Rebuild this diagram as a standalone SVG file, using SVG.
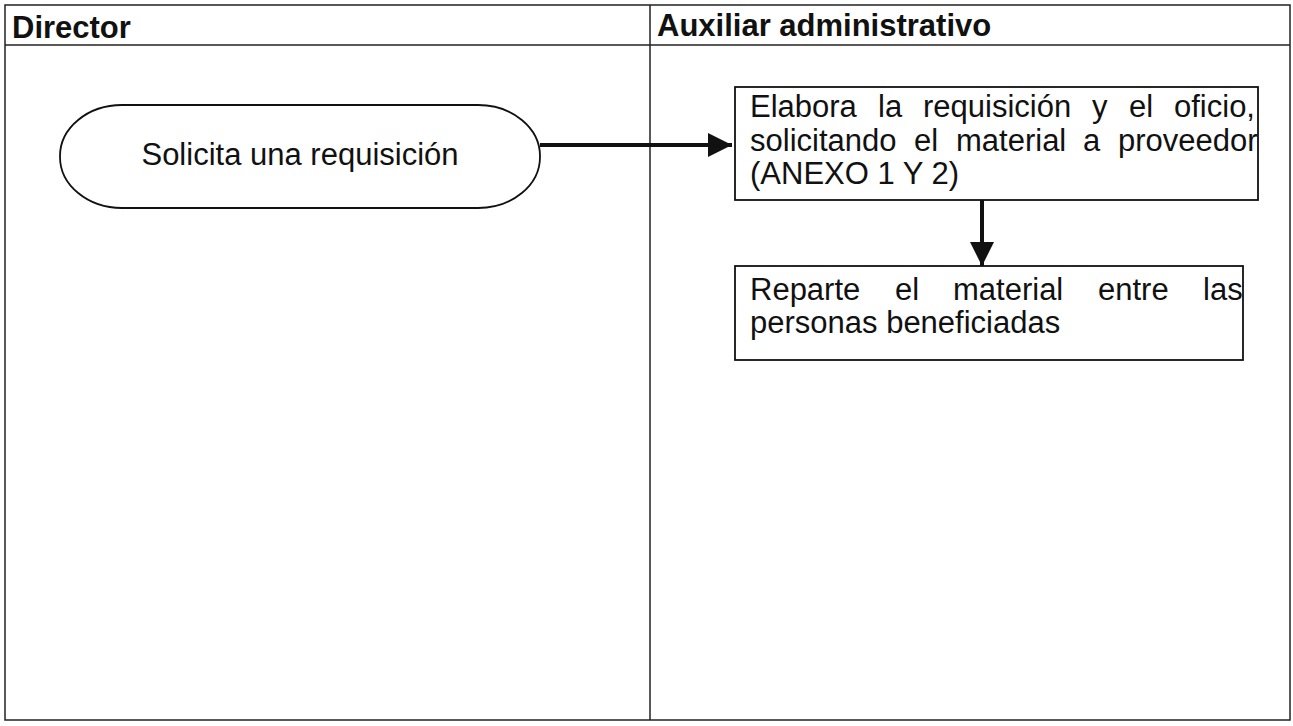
<svg xmlns="http://www.w3.org/2000/svg" width="1293" height="726" viewBox="0 0 1293 726">
<defs>
<style>
.line{stroke:#222;stroke-width:1.5;fill:none}
.box{stroke:#111;stroke-width:1.8;fill:#fff}
.hdr{font-family:"Liberation Sans",Arial,sans-serif;font-weight:bold;font-size:31px;fill:#111}
.txt{font-family:"Liberation Sans",Arial,sans-serif;font-size:31px;fill:#111}
.conn{stroke:#111;stroke-width:4;fill:none}
</style>
<marker id="ah" markerWidth="6" markerHeight="6" refX="6" refY="3" orient="auto" markerUnits="strokeWidth">
<path d="M0,0 L6,3 L0,6 z" fill="#111"/>
</marker>
</defs>
<rect width="1293" height="726" fill="#fff"/>
<g id="table">
<rect x="5" y="5" width="1285" height="715" class="line"/>
<line x1="5" y1="45" x2="1290" y2="45" class="line"/>
<line x1="650" y1="5" x2="650" y2="720" class="line"/>
<text x="12" y="38" class="hdr">Director</text>
<text x="657" y="36" class="hdr">Auxiliar administrativo</text>
</g>
<g id="connectors">
<line x1="540" y1="145" x2="732" y2="145" class="conn" marker-end="url(#ah)"/>
<line x1="982" y1="200" x2="982" y2="266" class="conn" marker-end="url(#ah)"/>
</g>
<g id="n1">
<rect x="60" y="105" width="480" height="103" rx="62" ry="51" class="box"/>
<text x="300" y="165" class="txt" text-anchor="middle">Solicita una requisición</text>
</g>
<g id="n2">
<rect x="735" y="87" width="523" height="113" class="box"/>
<text y="117" class="txt"><tspan x="750">Elabora</tspan> <tspan x="878">la</tspan> <tspan x="923">requisición</tspan> <tspan x="1092">y</tspan> <tspan x="1129">el</tspan> <tspan x="1174">oficio,</tspan></text>
<text y="151" class="txt"><tspan x="750">solicitando</tspan> <tspan x="914">el</tspan> <tspan x="956">material</tspan> <tspan x="1083">a</tspan> <tspan x="1118">proveedor</tspan></text>
<text x="750" y="184" class="txt">(ANEXO 1 Y 2)</text>
</g>
<g id="n3">
<rect x="735" y="266" width="508" height="94" class="box"/>
<text y="300" class="txt"><tspan x="750">Reparte</tspan> <tspan x="895">el</tspan> <tspan x="953">material</tspan> <tspan x="1098">entre</tspan> <tspan x="1203">las</tspan></text>
<text x="750" y="333" class="txt">personas beneficiadas</text>
</g>
</svg>
